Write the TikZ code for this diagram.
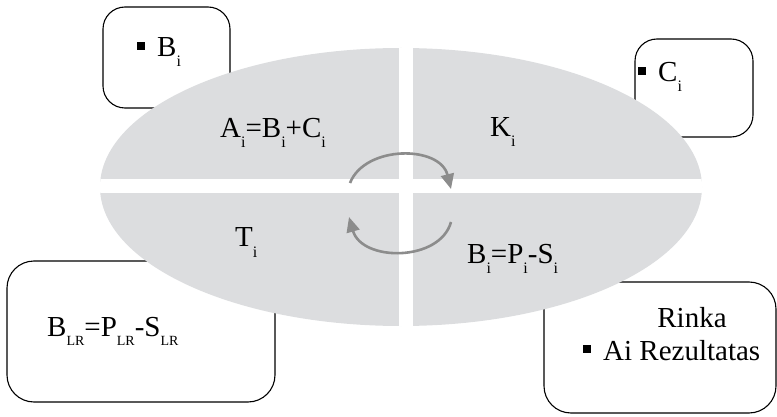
\documentclass[tikz,border=0pt]{standalone}
\usepackage{fontspec}
\setmainfont{Liberation Serif}
\usetikzlibrary{arrows.meta}
\definecolor{ellgray}{RGB}{220,221,223}
\definecolor{arrgray}{RGB}{140,140,140}
\newcommand\lsub[1]{\raisebox{-10pt}{\fontsize{16}{16}\selectfont #1}}
\newcommand\lrsub{\raisebox{-9pt}{\fontsize{14}{14}\selectfont LR}}
\newcommand\sqbullet{\rule[7pt]{8pt}{8pt}\hspace{12pt}}
\begin{document}
\begin{tikzpicture}[x=1pt,y=-1pt,
  box/.style={draw=black,line width=1.1pt,fill=white,rounded corners=22pt},
  lbl/.style={anchor=base west,inner sep=0pt,font=\fontsize{29}{34}\selectfont},
  cyc/.style={draw=arrgray,line width=2.6pt,-{Triangle[length=15pt,width=13pt]}}]
\useasboundingbox (0,0) rectangle (777,417);
% boxes (behind ellipse)
\draw[box] (103,7) rectangle (230,108);
\draw[box] (635,39) rectangle (753,137);
\draw[box,rounded corners=27pt] (7,261) rectangle (275,402);
\draw[box,rounded corners=27pt] (544,282) rectangle (776,413);
% ellipse
\fill[ellgray] (401,187) ellipse [x radius=301pt, y radius=139pt];
\begin{scope}
  \clip (401,187) ellipse [x radius=301pt, y radius=139pt];
  \fill[white] (399,30) rectangle (413,340);
  \fill[white] (80,179) rectangle (720,193);
\end{scope}
% texts
\node[lbl] (tb) at (137,57) {\sqbullet B\lsub{i}};
\node[lbl] (tc) at (638,82) {\sqbullet C\lsub{i}};
\node[lbl] (ta) at (220,138) {A\lsub{i}=B\lsub{i}+C\lsub{i}};
\node[lbl] (tk) at (490,137) {K\lsub{i}};
\node[lbl] (tt) at (235,247) {T\lsub{i}};
\node[lbl] (tbp) at (467,263) {B\lsub{i}=P\lsub{i}-S\lsub{i}};
\node[lbl] (tlr) at (47,336) {B\lrsub=P\lrsub-S\lrsub};
\node[lbl,anchor=base] (tr) at (692,327) {Rinka};
\node[lbl] (tai) at (583,360) {\sqbullet Ai Rezultatas};
% cycle arrows
\coordinate (a1s) at (350,183);
\coordinate (a1e) at (451,189);
\coordinate (a2s) at (451,222);
\coordinate (a2e) at (349,217);
\draw[cyc] (a1s) .. controls (365,145) and (440,145) .. (a1e);
\draw[cyc] (a2s) .. controls (440,262) and (362,262) .. (a2e);
\end{tikzpicture}
\end{document}
